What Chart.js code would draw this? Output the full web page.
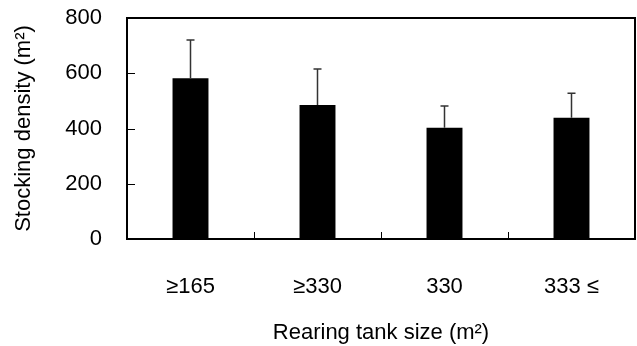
<!DOCTYPE html>
<html>
<head>
<meta charset="utf-8">
<script src="https://cdn.jsdelivr.net/npm/chart.js@4/dist/chart.umd.min.js"></script>
<style>
  html, body { margin: 0; padding: 0; background: #fff; }
  #wrap { width: 637px; height: 346px; }
</style>
</head>
<body>
<div id="wrap"><canvas id="chart-area"></canvas></div>
<script>
var categories = ['≥165', '≥330', '330', '333 ≤'];
var density = [582, 485, 403, 439];
var densitySd = [138, 130, 78, 89];
var yTicks = [0, 200, 400, 600, 800];

var tickFont = { family: "'Liberation Sans', Arial, sans-serif", size: 22 };
var titleFont = { family: "'Liberation Sans', Arial, sans-serif", size: 22 };

// frame, inward ticks and error bars
var framePlugin = {
  id: 'frame',
  afterDatasetsDraw: function(chart) {
    var ctx = chart.ctx;
    var area = chart.chartArea;
    var x = chart.scales.x;
    var y = chart.scales.y;
    ctx.save();

    // error bars (upper only)
    var meta = chart.getDatasetMeta(0);
    ctx.strokeStyle = '#333';
    ctx.lineWidth = 1.5;
    meta.data.forEach(function(bar, i) {
      var top = y.getPixelForValue(density[i] + densitySd[i]);
      ctx.beginPath();
      ctx.moveTo(bar.x, bar.y);
      ctx.lineTo(bar.x, top);
      ctx.moveTo(bar.x - 4, top);
      ctx.lineTo(bar.x + 4, top);
      ctx.stroke();
    });

    // ticks pointing inward
    ctx.strokeStyle = '#000';
    ctx.lineWidth = 1;
    yTicks.forEach(function(v) {
      var py = Math.round(y.getPixelForValue(v)) + 0.5;
      ctx.beginPath();
      ctx.moveTo(area.left, py);
      ctx.lineTo(area.left + 8, py);
      ctx.stroke();
    });
    for (var i = 0; i < categories.length - 1; i++) {
      var px = Math.round((x.getPixelForValue(i) + x.getPixelForValue(i + 1)) / 2) + 0.5;
      ctx.beginPath();
      ctx.moveTo(px, area.bottom);
      ctx.lineTo(px, area.bottom - 7);
      ctx.stroke();
    }

    // box
    ctx.lineWidth = 2;
    ctx.strokeRect(area.left, area.top, area.right - area.left, area.bottom - area.top);
    ctx.restore();
  }
};

var config = {
  type: 'bar',
  data: {
    labels: categories,
    datasets: [{
      data: density,
      backgroundColor: '#000',
      borderWidth: 0,
      categoryPercentage: 1,
      barPercentage: 0.283
    }]
  },
  options: {
    responsive: true,
    maintainAspectRatio: false,
    animation: false,
    layout: { padding: { top: 18, right: 2, left: 0, bottom: 0 } },
    plugins: {
      legend: { display: false },
      tooltip: { enabled: false }
    },
    scales: {
      x: {
        grid: { display: false, drawTicks: false },
        border: { display: false },
        ticks: { color: '#000', font: tickFont, padding: 35, maxRotation: 0 },
        title: {
          display: true,
          text: 'Rearing tank size (m²)',
          color: '#000',
          font: titleFont,
          padding: { top: 0, bottom: 0 }
        },
        afterFit: function(scale) {
          scale.height = 107;
          scale.paddingLeft = 0;
          scale.paddingRight = 0;
        }
      },
      y: {
        min: 0,
        max: 800,
        grid: { display: false, drawTicks: false },
        border: { display: false },
        ticks: { stepSize: 200, color: '#000', font: tickFont, padding: 25 },
        title: {
          display: true,
          text: 'Stocking density (m²)',
          color: '#000',
          font: titleFont,
          padding: { top: 11, bottom: 0 }
        },
        afterFit: function(scale) {
          scale.width = 127;
          scale.paddingTop = 0;
          scale.paddingBottom = 0;
        }
      }
    }
  },
  plugins: [framePlugin]
};

window.onload = function() {
  var ctx = document.getElementById('chart-area').getContext('2d');
  window.myBar = new Chart(ctx, config);
};
</script>
</body>
</html>
